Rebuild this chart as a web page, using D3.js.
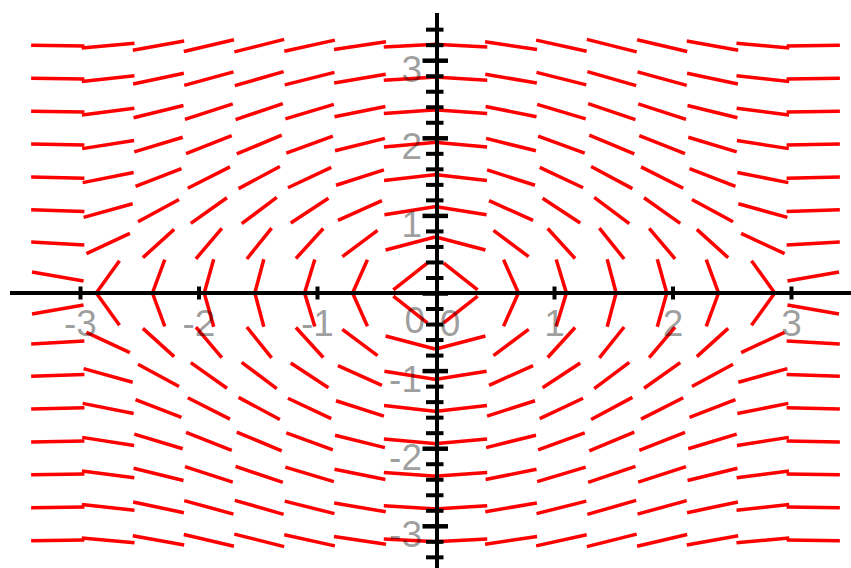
<!DOCTYPE html>
<html>
<head>
<meta charset="utf-8">
<script src="https://cdn.jsdelivr.net/npm/d3@7"></script>
<style>
  html, body { margin: 0; padding: 0; background: #fff; }
  svg { display: block; }
</style>
</head>
<body>
<div id="chart"></div>
<script>
// grid of the direction field (cell centres, same in x and y)
const xs = [-3.1875, -2.7625, -2.3375, -1.9125, -1.4875, -1.0625, -0.6375, -0.2125,
            0.2125, 0.6375, 1.0625, 1.4875, 1.9125, 2.3375, 2.7625, 3.1875];
const ys = [-3.1875, -2.7625, -2.3375, -1.9125, -1.4875, -1.0625, -0.6375, -0.2125,
            0.2125, 0.6375, 1.0625, 1.4875, 1.9125, 2.3375, 2.7625, 3.1875];
// vertical component of the field per column (horizontal component is the row's y)
const vCol = [-0.056, 0.452, 0.879, 1.150, 1.216, 1.066, 0.726, 0.257,
              -0.257, -0.726, -1.066, -1.216, -1.150, -0.879, -0.452, 0.056];

const xTicks = [-3, -2, -1, 0, 1, 2, 3];
const yMajor = [-3, -2, -1, 0, 1, 2, 3];
const yMinor = [-3.4, -3.2, -2.8, -2.6, -2.4, -2.2, -1.8, -1.6, -1.4, -1.2, -0.8, -0.6, -0.4, -0.2,
                0.2, 0.4, 0.6, 0.8, 1.2, 1.4, 1.6, 1.8, 2.2, 2.4, 2.6, 2.8, 3.2, 3.4];

const width = 851;
const height = 568;
const segLen = 0.45;   // segment length in data units

const x = d3.scaleLinear().domain([-3.6, 3.6]).range([435.5 - 3.6 * 118.5, 435.5 + 3.6 * 118.5]);
const y = d3.scaleLinear().domain([-3.6, 3.6]).range([293 + 3.6 * 77.6, 293 - 3.6 * 77.6]);

const svg = d3.select('#chart')
    .append('svg')
    .attr('width', width)
    .attr('height', height)
    .attr('viewBox', [0, 0, width, height]);

// field segments
const cells = [];
xs.forEach((cx, i) => {
    ys.forEach(cy => {
        const u = cy, v = vCol[i];
        const n = Math.hypot(u, v) || 1;
        const hx = u / n * segLen / 2, hy = v / n * segLen / 2;
        cells.push({ x1: cx - hx, y1: cy - hy, x2: cx + hx, y2: cy + hy });
    });
});

svg.append('g')
    .selectAll('line')
    .data(cells)
    .enter().append('line')
    .attr('x1', d => x(d.x1))
    .attr('y1', d => y(d.y1))
    .attr('x2', d => x(d.x2))
    .attr('y2', d => y(d.y2))
    .attr('stroke', '#ff0000')
    .attr('stroke-width', 3.5);

// x axis
const gx = svg.append('g')
    .attr('transform', `translate(0,${y(0)})`)
    .call(d3.axisBottom(x).tickValues(xTicks).tickSizeOuter(0).tickFormat(d => String(d)));
gx.select('.domain').attr('d', `M10,0H${width}`).attr('stroke', '#000').attr('stroke-width', 4);
gx.selectAll('.tick line')
    .attr('y1', -6.5).attr('y2', 6.5)
    .attr('stroke', '#000').attr('stroke-width', 4)
    .attr('display', d => d === 0 ? 'none' : null);
gx.selectAll('.tick text')
    .attr('y', 43).attr('dy', null)
    .attr('dx', d => d === 0 ? 14 : 0)
    .attr('fill', '#000').attr('fill-opacity', 0.4)
    .style('font-family', '"Liberation Sans", Arial, sans-serif')
    .style('font-size', '37px');

// y axis, minor ticks first
const gy = svg.append('g')
    .attr('transform', `translate(${x(0) + 1.5},0)`);

gy.append('g')
    .call(d3.axisLeft(y).tickValues(yMinor).tickSizeOuter(0).tickFormat(''))
    .call(g => g.select('.domain').remove())
    .selectAll('.tick line')
    .attr('x1', -11).attr('x2', 6.5)
    .attr('stroke', '#000').attr('stroke-width', 4);

const gyMajor = gy.append('g')
    .call(d3.axisLeft(y).tickValues(yMajor).tickSizeOuter(0).tickFormat(d => String(d)));
gyMajor.select('.domain').attr('d', `M0,13V${height}`).attr('stroke', '#000').attr('stroke-width', 4);
gyMajor.selectAll('.tick line')
    .attr('x1', -14.5).attr('x2', 11)
    .attr('stroke', '#000').attr('stroke-width', 4.5);
gyMajor.selectAll('.tick text')
    .attr('x', d => d === 0 ? -12 : -15)
    .attr('dy', null)
    .attr('y', d => d === 0 ? 39 : 21)
    .attr('fill', '#000').attr('fill-opacity', 0.4)
    .style('font-family', '"Liberation Sans", Arial, sans-serif')
    .style('font-size', '37px');
</script>
</body>
</html>
